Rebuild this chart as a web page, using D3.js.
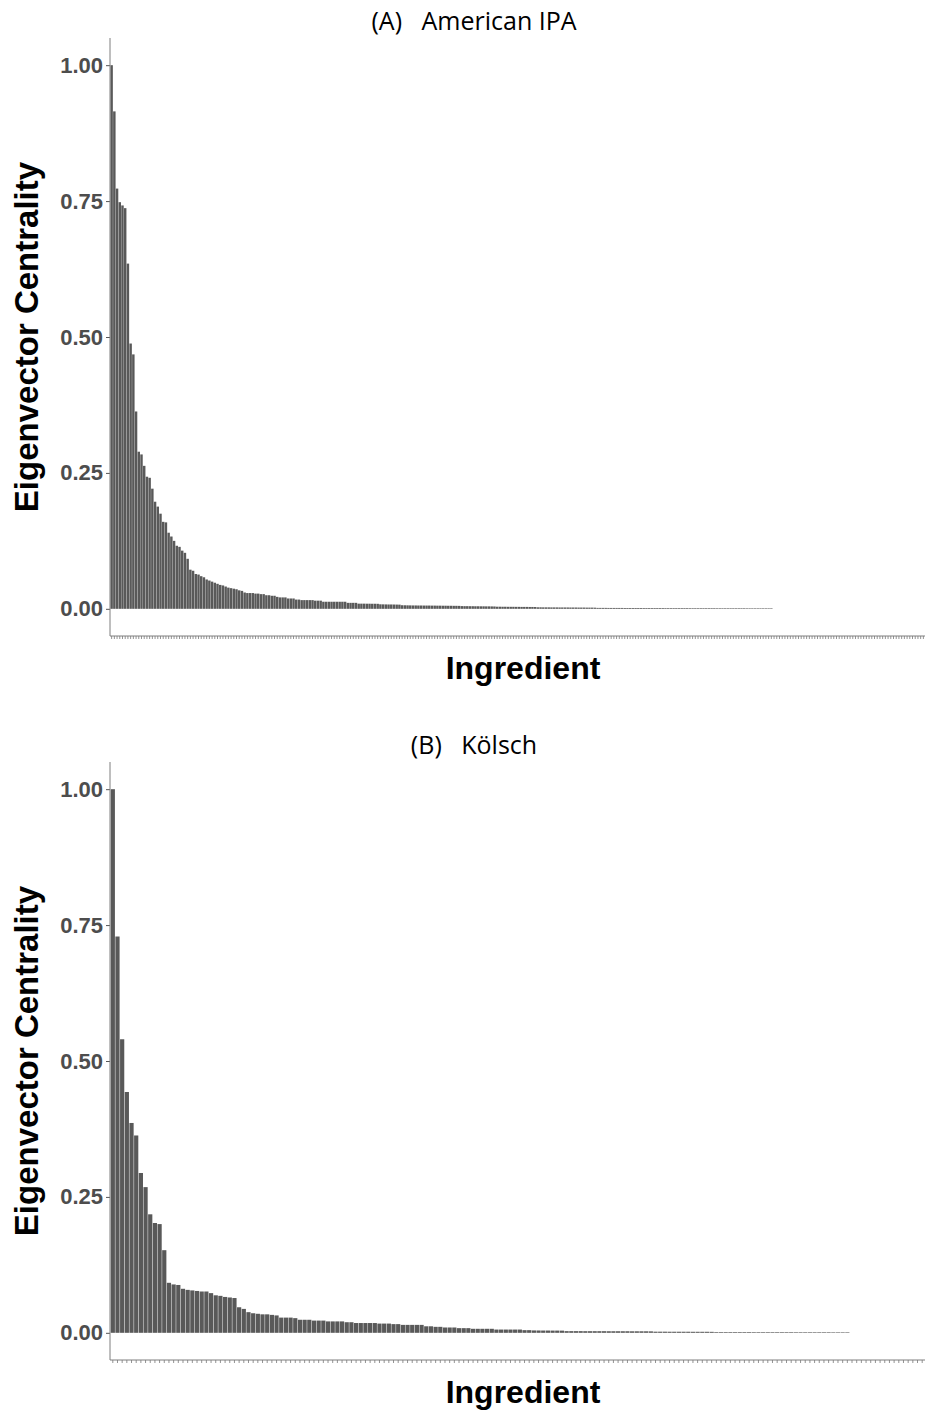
<!DOCTYPE html>
<html>
<head>
<meta charset="utf-8">
<script src="https://cdn.jsdelivr.net/npm/d3@7"></script>
<style>
  body { margin: 0; background: #fff; }
  svg { display: block; }
</style>
</head>
<body>
<div id="chart"></div>
<script>
// eigenvector centrality per ingredient, sorted
const ipaValues = [
  1.000,0.915,0.773,0.748,0.742,0.737,0.635,0.488,0.468,0.363,
  0.289,0.284,0.263,0.243,0.241,0.221,0.197,0.188,0.175,0.160,
  0.159,0.140,0.133,0.125,0.116,0.114,0.107,0.103,0.092,0.072,
  0.070,0.064,0.063,0.060,0.058,0.054,0.052,0.050,0.048,0.046,
  0.044,0.043,0.041,0.039,0.038,0.037,0.036,0.034,0.033,0.030,
  0.029,0.029,0.029,0.028,0.028,0.027,0.027,0.025,0.025,0.024,
  0.024,0.022,0.021,0.021,0.021,0.019,0.019,0.019,0.017,0.017,
  0.016,0.016,0.016,0.016,0.016,0.015,0.015,0.015,0.013,0.013,
  0.013,0.013,0.013,0.013,0.013,0.013,0.013,0.011,0.011,0.011,
  0.011,0.0095,0.0095,0.0095,0.0094,0.0094,0.0093,0.0093,0.0092,0.0083,
  0.0082,0.0081,0.0080,0.0080,0.0079,0.0078,0.0077,
  0.0066,0.0065,0.0064,0.0063,0.0062,0.0062,0.0061,0.0061,0.0060,0.0060,
  0.0060,0.0059,0.0059,0.0058,0.0058,0.0057,0.0057,0.0056,0.0056,0.0055,
  0.0055,0.0054,
  0.0050,0.0049,0.0049,0.0048,0.0048,0.0047,0.0047,0.0046,0.0046,0.0045,
  0.0045,0.0044,0.0043,
  0.0039,0.0039,0.0038,0.0038,0.0037,0.0037,0.0037,0.0036,0.0036,0.0035,
  0.0035,0.0035,0.0034,0.0034,0.0033,
  0.0028,0.0028,0.0027,0.0027,0.0027,0.0026,0.0026,0.0026,0.0025,0.0025,
  0.0025,0.0025,0.0024,0.0024,0.0024,0.0023,0.0023,0.0023,0.0022,0.0022,
  0.0022,0.0021,
  0.0017,0.0017,0.0017,0.0017,0.0016,0.0016,0.0016,0.0016,0.0016,0.0016,
  0.0015,0.0015,0.0015,0.0015,0.0015,0.0015,0.0015,0.0014,0.0014,0.0014,
  0.0014,0.0014,0.0014,0.0014,0.0014,0.0013,0.0013,0.0013,0.0013,0.0013,
  0.0013,0.0013,0.0013,0.0013,0.0012,0.0012,0.0012,0.0012,0.0012,0.0012,
  0.0012,0.0012,0.0012,0.0012,0.0011,0.0011,0.0011,0.0011,0.0011,0.0011,
  0.0011,0.0011,0.0011,0.0011,0.0011,0.0010,0.0010,0.0010,0.0010,0.0010,
  0.0010,0.0010,0.0010,0.0010,0.0010,
  0,0,0,0,0,0,0,0,0,0,0,0,0,0,
  0,0,0,0,0,0,0,0,0,0,0,0,0,0,
  0,0,0,0,0,0,0,0,0,0,0,0,0,0,
  0,0,0,0,0,0,0,0,0,0,0,0,0,0
];

const kolschValues = [
  1.000,0.729,0.540,0.443,0.386,0.363,0.294,0.268,0.218,0.202,
  0.200,0.152,0.092,0.089,0.088,0.081,0.079,0.078,0.077,0.076,
  0.076,0.073,0.069,0.068,0.066,0.065,0.064,0.047,0.044,0.038,
  0.036,0.035,0.034,0.034,0.033,0.032,0.028,0.028,0.028,0.027,
  0.024,0.024,0.024,0.0225,0.0225,0.0225,0.021,0.021,0.021,0.021,
  0.0195,0.0195,0.018,0.018,0.018,0.018,0.018,0.017,0.017,0.017,
  0.016,0.016,0.0146,0.0146,0.0146,0.0146,0.0146,0.012,0.012,0.011,
  0.011,0.0098,0.0098,0.0098,0.0086,0.0086,0.0086,0.0074,0.0074,0.0074,
  0.0074,0.0074,0.006,0.006,0.006,0.006,0.006,0.006,0.0049,0.0049,
  0.0044,0.0043,0.0042,0.0042,0.0041,0.0041,0.0040,0.0031,0.0031,0.0031,
  0.0031,0.0030,0.0030,0.0030,0.0030,0.0030,0.0029,0.0029,0.0029,0.0029,
  0.0029,0.0028,0.0028,0.0028,0.0028,0.0027,
  0.0021,0.0021,0.0021,0.0020,0.0020,0.0020,0.0020,0.0020,0.0019,0.0019,
  0.0019,0.0019,0.0018,
  0.0013,0.0013,0.0013,0.0013,0.0013,0.0013,0.0013,0.0013,0.0012,0.0012,
  0.0012,0.0012,0.0012,0.0012,0.0012,0.0012,0.0012,0.0011,0.0011,0.0011,
  0.0011,0.0011,0.0011,0.0011,0.0011,0.0010,0.0010,0.0010,0.0010,
  0,0,0,0,0,0,0,0,0,0,0,0,0,0,0,0
];

const panelTitles = ["(A)   American IPA", "(B)   Kölsch"];
const yTicks = [0, 0.25, 0.5, 0.75, 1];
const xLabel = "Ingredient";
const yLabel = "Eigenvector Centrality";

const W = 926, H = 1412;
const svg = d3.select("#chart").append("svg")
    .attr("width", W).attr("height", H)
    .style("font-family", "'Liberation Sans', Arial, sans-serif");

drawPanel(ipaValues, panelTitles[0], 0);
drawPanel(kolschValues, panelTitles[1], 724);

function drawPanel(values, title, offsetY) {
    const left = 110, right = 925, top = 38 + offsetY, bottom = 636 + offsetY;
    const data = values.map((v, i) => ({ key: i, value: v }));

    // ggplot-ish discrete expansion: 0.6 units each side, width 0.9
    const x = d3.scaleBand()
        .domain(data.map(d => d.key))
        .range([left, right])
        .paddingInner(0.1)
        .paddingOuter(0.15);

    const y = d3.scaleLinear()
        .domain([-0.05, 1.05])
        .range([bottom, top]);

    const g = svg.append("g");

    g.append("text")
        .attr("x", 474).attr("y", 30 + offsetY)
        .attr("text-anchor", "middle")
        .style("white-space", "pre")
        .style("font-family", "'Open Sans', 'Liberation Sans', sans-serif")
        .style("font-size", "25px")
        .attr("fill", "#000")
        .text(title);

    g.selectAll(".bar")
        .data(data.filter(d => d.value > 0))
        .join("rect")
        .attr("class", "bar")
        .attr("x", d => x(d.key))
        .attr("width", x.bandwidth())
        .attr("y", d => y(d.value))
        .attr("height", d => y(0) - y(d.value))
        .attr("fill", "#595959");

    // y axis
    const yAxis = g.append("g")
        .attr("transform", `translate(${left},0)`)
        .call(d3.axisLeft(y).tickValues(yTicks).tickFormat(d3.format(".2f")).tickSize(4).tickPadding(3).tickSizeOuter(0));
    yAxis.select(".domain").remove();
    yAxis.selectAll(".tick line").attr("stroke", "#555");
    yAxis.selectAll(".tick text")
        .attr("fill", "#4d4d4d")
        .style("font-size", "22px")
        .style("font-weight", "bold");
    g.append("line")
        .attr("x1", left).attr("x2", left)
        .attr("y1", top).attr("y2", bottom)
        .attr("stroke", "#7f7f7f");

    // x axis, unlabeled ticks
    const xAxis = g.append("g")
        .attr("transform", `translate(0,${bottom})`)
        .call(d3.axisBottom(x).tickFormat("").tickSize(3).tickSizeOuter(0));
    xAxis.select(".domain").remove();
    xAxis.selectAll(".tick line").attr("stroke", "#777").attr("stroke-width", 0.8);
    g.append("line")
        .attr("x1", left).attr("x2", right)
        .attr("y1", bottom).attr("y2", bottom)
        .attr("stroke", "#7f7f7f");

    g.append("text")
        .attr("x", 523).attr("y", 679 + offsetY)
        .attr("text-anchor", "middle")
        .style("font-size", "32px")
        .style("font-weight", "bold")
        .text(xLabel);

    g.append("text")
        .attr("transform", `translate(38,${(top + bottom) / 2}) rotate(-90)`)
        .attr("text-anchor", "middle")
        .style("font-size", "33px")
        .style("font-weight", "bold")
        .text(yLabel);
}
</script>
</body>
</html>
